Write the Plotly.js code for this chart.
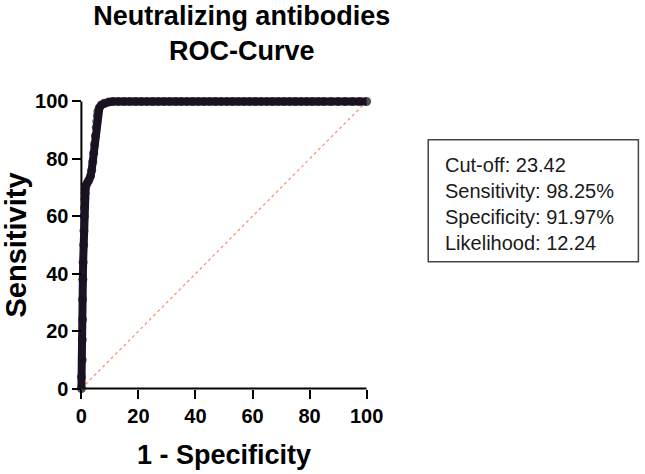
<!DOCTYPE html>
<html>
<head>
<meta charset="utf-8">
<script src="https://cdn.plot.ly/plotly-3.0.1.min.js"></script>
<style>
  html, body { margin: 0; padding: 0; background: #fff; }
  #chart { width: 645px; height: 474px; }
</style>
</head>
<body>
<div id="chart"></div>
<script>
// ROC curve (1 - specificity %, sensitivity %)
const rocX = [0, 0, 0.3, 0.3, 0.4, 0.4, 0.5, 0.6, 0.8, 0.9, 1.0, 1.1, 1.2, 1.3, 1.3, 1.5, 2.0, 2.6, 3.2, 3.6,
  4.0, 4.3, 4.6, 4.9, 5.2, 5.4, 5.6, 5.8, 6.3, 7.0, 8.0, 9.5, 11, 13, 15, 17, 19, 21, 23, 25, 27, 29,
  31, 33, 35, 37, 39, 41, 43, 45, 47, 49, 51, 53, 55, 57, 59, 61, 63, 65, 67, 69, 71, 73, 75, 77, 79,
  81, 83, 85, 87.5, 90, 92.5, 95, 97.5, 100];
const rocY = [0, 4, 10, 17, 24, 31, 38, 44, 50, 55, 60, 63, 66, 68, 69.5, 70.5, 71.5, 72.5, 74, 76,
  79, 82, 85, 88, 91, 93, 95, 96.5, 97.8, 98.8, 99.4, 99.8, 100, 100, 100, 100, 100, 100, 100, 100, 100, 100,
  100, 100, 100, 100, 100, 100, 100, 100, 100, 100, 100, 100, 100, 100, 100, 100, 100, 100, 100, 100, 100, 100, 100, 100, 100,
  100, 100, 100, 100, 100, 100, 100, 100, 100];

// chance line
const diagX = [0, 100];
const diagY = [0, 100];

const tickVals = [0, 20, 40, 60, 80, 100];

const statLines = [
  'Cut-off: 23.42',
  'Sensitivity: 98.25%',
  'Specificity: 91.97%',
  'Likelihood: 12.24'
];

const traceDiag = {
  x: diagX,
  y: diagY,
  type: 'scatter',
  mode: 'lines',
  line: { color: '#e8946c', width: 1.2, dash: 'dot' },
  hoverinfo: 'skip'
};

const traceRoc = {
  x: rocX,
  y: rocY,
  type: 'scatter',
  mode: 'lines+markers',
  line: { color: '#1b1321', width: 8 },
  marker: { color: 'rgba(27,19,33,0.75)', size: 9 },
  cliponaxis: false
};

const pos = 4 / 108;
const axisFont = { family: 'Liberation Sans, Arial, sans-serif', size: 20, color: '#000', weight: 'bold' };

const layout = {
  width: 645,
  height: 474,
  margin: { l: 70, r: 267, t: 90, b: 74 },
  paper_bgcolor: '#fff',
  plot_bgcolor: '#fff',
  showlegend: false,
  font: { family: 'Liberation Sans, Arial, sans-serif', color: '#000' },
  title: {
    text: 'Neutralizing antibodies<br>ROC-Curve',
    font: { family: 'Liberation Sans, Arial, sans-serif', size: 27, color: '#000', weight: 'bold' },
    xref: 'container',
    x: 0.375,
    xanchor: 'center',
    yref: 'container',
    y: 0.948,
    yanchor: 'top'
  },
  xaxis: {
    range: [-4, 104],
    anchor: 'free',
    position: pos,
    tickvals: tickVals,
    ticks: 'outside',
    ticklen: 9,
    tickwidth: 2,
    tickcolor: '#000',
    tickfont: axisFont,
    showgrid: false,
    zeroline: false,
    showline: false,
    title: {
      text: '1 - Specificity',
      font: { family: 'Liberation Sans, Arial, sans-serif', size: 27, color: '#000', weight: 'bold' },
      standoff: 19
    }
  },
  yaxis: {
    range: [-4, 104],
    anchor: 'free',
    position: pos,
    tickvals: tickVals,
    ticks: 'outside',
    ticklen: 9,
    tickwidth: 2,
    tickcolor: '#000',
    tickfont: axisFont,
    showgrid: false,
    zeroline: false,
    showline: false,
    title: {
      text: 'Sensitivity',
      font: { family: 'Liberation Sans, Arial, sans-serif', size: 29, color: '#000', weight: 'bold' },
      standoff: 14
    }
  },
  shapes: [
    { type: 'line', xref: 'x', yref: 'y', x0: 0, y0: 0, x1: 0, y1: 100, layer: 'below', line: { color: '#000', width: 2 } },
    { type: 'line', xref: 'x', yref: 'y', x0: 0, y0: 0, x1: 100, y1: 0, layer: 'below', line: { color: '#000', width: 2 } },
    { type: 'rect', xref: 'paper', yref: 'paper', x0: 1.1631, x1: 1.8454, y0: 0.4463, y1: 0.8395, line: { color: '#444', width: 1.5 } }
  ],
  annotations: [
    {
      xref: 'paper', yref: 'paper',
      x: 1.2099, y: 0.632,
      xanchor: 'left', yanchor: 'middle',
      align: 'left',
      showarrow: false,
      text: statLines.join('<br>'),
      font: { family: 'Liberation Sans, Arial, sans-serif', size: 20, color: '#1a1a1a' }
    }
  ]
};

Plotly.newPlot('chart', [traceDiag, traceRoc], layout, { displayModeBar: false, staticPlot: true });
</script>
</body>
</html>
